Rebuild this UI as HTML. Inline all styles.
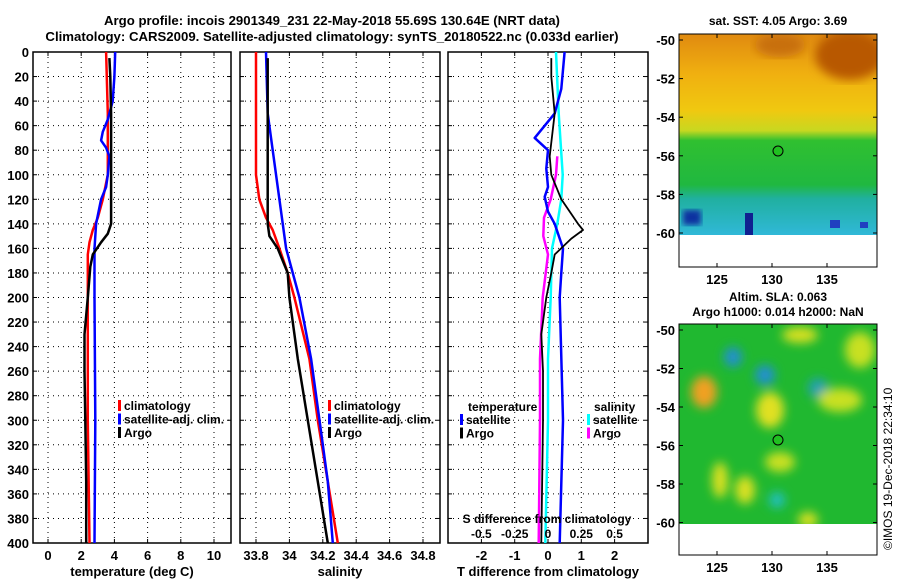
<!DOCTYPE html>
<html><head><meta charset="utf-8"><style>
body{margin:0;background:#fff}
svg{display:block;font-family:"Liberation Sans",sans-serif;font-weight:bold}
</style></head><body>
<svg id="c" width="900" height="580" viewBox="0 0 900 580">
<defs>
<linearGradient id="sst" x1="0" y1="0" x2="0" y2="1">
<stop offset="0" stop-color="#e08a10"/><stop offset="0.2" stop-color="#f0b010"/><stop offset="0.38" stop-color="#f0c810"/>
<stop offset="0.48" stop-color="#c8d820"/><stop offset="0.53" stop-color="#30c030"/><stop offset="0.75" stop-color="#20b840"/>
<stop offset="0.82" stop-color="#20b0a0"/><stop offset="1" stop-color="#30b8d8"/></linearGradient>
<filter id="bl"><feGaussianBlur stdDeviation="5"/></filter>
<filter id="bl2"><feGaussianBlur stdDeviation="3"/></filter>
<clipPath id="m1c"><rect x="679" y="34" width="198" height="201"/></clipPath>
<clipPath id="m2c"><rect x="679" y="324" width="198" height="200"/></clipPath>
</defs>
<g id="title" font-size="13.2" text-anchor="middle">
<text x="332" y="25">Argo profile: incois 2901349_231 22-May-2018 55.69S 130.64E (NRT data)</text>
<text x="332" y="41">Climatology: CARS2009. Satellite-adjusted climatology: synTS_20180522.nc (0.033d earlier)</text>
</g>
<g id="p1"></g>
<g id="p2"></g>
<g id="p3"></g>
<g id="map1">
<text x="778" y="25" font-size="12" text-anchor="middle">sat. SST: 4.05 Argo: 3.69</text>
<g clip-path="url(#m1c)">
<rect x="679" y="34" width="198" height="201" fill="url(#sst)"/>
<ellipse cx="850" cy="55" rx="35" ry="25" fill="#b85800" filter="url(#bl)"/>
<ellipse cx="780" cy="45" rx="25" ry="12" fill="#c87010" filter="url(#bl)"/>
<rect x="683" y="210" width="18" height="15" fill="#1030a0" filter="url(#bl2)"/>
<rect x="745" y="213" width="8" height="22" fill="#102090"/>
<rect x="830" y="220" width="10" height="8" fill="#2040c0"/>
<rect x="860" y="222" width="8" height="6" fill="#2040c0"/>
</g>
<rect x="679" y="235" width="198" height="32" fill="#fff"/>
<rect x="679" y="34" width="198" height="233" fill="none" stroke="#000"/>
<circle cx="778" cy="151" r="5" fill="#20c020" stroke="#000"/>
</g>
<g id="map2">
<text x="778" y="301" font-size="12" text-anchor="middle">Altim. SLA: 0.063</text>
<text x="778" y="316" font-size="12" text-anchor="middle">Argo h1000: 0.014 h2000: NaN</text>
<g clip-path="url(#m2c)">
<rect x="679" y="324" width="198" height="200" fill="#20b830"/>
<g filter="url(#bl)">
<ellipse cx="704" cy="392" rx="13" ry="16" fill="#f0a020"/>
<ellipse cx="765" cy="375" rx="10" ry="10" fill="#2090d0"/>
<ellipse cx="733" cy="357" rx="9" ry="10" fill="#2090d0"/>
<ellipse cx="818" cy="388" rx="10" ry="10" fill="#20a0b0"/>
<ellipse cx="770" cy="410" rx="14" ry="18" fill="#e0e020"/>
<ellipse cx="840" cy="400" rx="22" ry="12" fill="#c8e020"/>
<ellipse cx="860" cy="350" rx="15" ry="18" fill="#c8e020"/>
<ellipse cx="800" cy="335" rx="18" ry="8" fill="#d8e020"/>
<ellipse cx="720" cy="480" rx="8" ry="18" fill="#d8e020"/>
<ellipse cx="745" cy="490" rx="10" ry="14" fill="#d8e020"/>
<ellipse cx="780" cy="462" rx="15" ry="10" fill="#c8e020"/>
<ellipse cx="777" cy="500" rx="8" ry="8" fill="#20c0c0"/>
<ellipse cx="808" cy="520" rx="10" ry="8" fill="#d8e020"/>
</g>
</g>
<rect x="679" y="524" width="198" height="31" fill="#fff"/>
<rect x="679" y="324" width="198" height="231" fill="none" stroke="#000"/>
<circle cx="778" cy="440" r="5" fill="#20c020" stroke="#000"/>
</g>
<g id="mapaxes"></g>
<text x="0" y="0" transform="translate(892,550) rotate(-90)" font-size="12" font-weight="normal">©IMOS 19-Dec-2018 22:34:10</text>
</svg>
<script>
// ---- data ----
const depthTicks=[0,20,40,60,80,100,120,140,160,180,200,220,240,260,280,300,320,340,360,380,400];
const tempTicks=[0,2,4,6,8,10];
const salTicks=[33.8,34,34.2,34.4,34.6,34.8];
const salTickLabels=["33.8","34","34.2","34.4","34.6","34.8"];
const dTTicks=[-2,-1,0,1,2];
const dSTicks=[-0.5,-0.25,0,0.25,0.5];
const lonTicks=[125,130,135];
const latTicks=[-50,-52,-54,-56,-58,-60];

const tClimDepth=[0,50,100,120,135,145,155,165,200,300,400];
const tClimVal=[3.5,3.6,3.6,3.3,3.0,2.7,2.5,2.4,2.4,2.4,2.5];
const tSatDepth=[0,20,40,55,65,72,78,85,100,110,120,140,160,200,300,400];
const tSatVal=[4.05,4.0,3.9,3.6,3.3,3.2,3.5,3.7,3.6,3.5,3.2,2.9,2.8,2.8,2.85,2.8];
const tArgoDepth=[5,20,50,100,140,148,155,165,175,200,230,260,300,350,400];
const tArgoVal=[3.7,3.75,3.8,3.8,3.8,3.6,3.2,2.7,2.55,2.4,2.2,2.2,2.25,2.3,2.3];

const sClimDepth=[0,100,120,135,145,160,180,200,250,300,350,400];
const sClimVal=[33.80,33.80,33.82,33.86,33.90,33.94,33.99,34.03,34.12,34.17,34.23,34.29];
const sSatDepth=[0,50,80,120,160,200,250,300,350,400];
const sSatVal=[33.86,33.87,33.90,33.94,33.98,34.06,34.13,34.18,34.23,34.26];
const sArgoDepth=[5,140,150,160,180,200,250,300,350,400];
const sArgoVal=[33.87,33.87,33.88,33.93,33.99,34.0,34.05,34.11,34.17,34.23];

const dTSatDepth=[0,30,50,60,70,80,95,110,118,130,140,160,180,200,300,400];
const dTSatVal=[0.5,0.4,0.2,-0.1,-0.4,0.0,-0.05,0.0,-0.1,0.0,0.2,0.45,0.4,0.35,0.45,0.35];
const dTArgoDepth=[5,20,50,85,100,120,140,145,152,165,180,200,230,260,300,400];
const dTArgoVal=[0.1,0.1,0.2,0.05,0.1,0.4,0.9,1.05,0.7,0.2,0.1,-0.05,-0.2,-0.15,-0.15,-0.2];
const dSSatDepth=[0,50,100,120,140,160,200,250,300,400];
const dSSatVal=[0.06,0.08,0.11,0.1,0.07,0.03,0.02,0.0,0.0,-0.02];
const dSArgoDepth=[85,100,120,135,150,165,200,250,300,400];
const dSArgoVal=[0.07,0.06,0.02,-0.03,-0.035,0.0,-0.04,-0.06,-0.06,-0.07];

// ---- drawing ----
const NS="http://www.w3.org/2000/svg";
function mk(tag,attrs,parent,txt){const e=document.createElementNS(NS,tag);for(const k in attrs)e.setAttribute(k,attrs[k]);if(txt!==undefined)e.textContent=txt;parent.appendChild(e);return e;}
const Y0=52,Y1=543;
const yD=d=>Y0+d*(Y1-Y0)/400;
function lin(d0,d1,r0,r1){return v=>r0+(v-d0)*(r1-r0)/(d1-d0);}

function panel(g,x0,x1,xs,ticks,labels,xlabel,showDepth){
  for(const d of depthTicks){const y=yD(d);
    mk('line',{x1:x0,x2:x1,y1:y,y2:y,stroke:'#000','stroke-dasharray':'1,4'},g);
    mk('line',{x1:x0,x2:x0+4,y1:y,y2:y,stroke:'#000'},g);mk('line',{x1:x1-4,x2:x1,y1:y,y2:y,stroke:'#000'},g);
    if(showDepth){const t=mk('text',{x:x0-4,y:y+5,'font-size':'13','text-anchor':'end'},g,String(d));
      }
  }
  ticks.forEach((v,i)=>{const x=xs(v);
    mk('line',{x1:x,x2:x,y1:Y0,y2:Y1,stroke:'#000','stroke-dasharray':'1,4'},g);
    mk('line',{x1:x,x2:x,y1:Y1,y2:Y1-4,stroke:'#000'},g);mk('line',{x1:x,x2:x,y1:Y0,y2:Y0+4,stroke:'#000'},g);
    const t=mk('text',{x:x,y:560,'font-size':'13','text-anchor':'middle'},g,labels[i]);
    
  });
  mk('rect',{x:x0,y:Y0,width:x1-x0,height:Y1-Y0,fill:'none',stroke:'#000','stroke-width':1.5},g);
  const xl=mk('text',{x:(x0+x1)/2,y:576,'font-size':'13','text-anchor':'middle'},g,xlabel);
  
}
function series(g,depths,vals,xs,color,name,w){
  const pts=depths.map((d,i)=>xs(vals[i]).toFixed(1)+','+yD(d).toFixed(1)).join(' ');
  const p=mk('polyline',{points:pts,fill:'none',stroke:color,'stroke-width':w||2.5,'stroke-linejoin':'round'},g);
  
}
function legend(g,x,y,items){
  items.forEach((it,i)=>{const yy=y+i*13.5;
    mk('rect',{x:x,y:yy-6,width:3,height:11,fill:it[1]},g);
    const t=mk('text',{x:x+6,y:yy+4,'font-size':'12'},g,it[0]);
    });
}
const p1=document.getElementById('p1'),p2=document.getElementById('p2'),p3=document.getElementById('p3');
const xT=lin(0,10,48,214);
panel(p1,33,231,xT,tempTicks,tempTicks.map(String),'temperature (deg C)',true);
series(p1,tClimDepth,tClimVal,xT,'#f00','temp-climatology-line');
series(p1,tSatDepth,tSatVal,xT,'#00f','temp-satellite-line');
series(p1,tArgoDepth,tArgoVal,xT,'#000','temp-argo-line');
legend(p1,118,406,[['climatology','#f00'],['satellite-adj. clim.','#00f'],['Argo','#000']]);

const xS=lin(33.8,34.8,256,423);
panel(p2,240,440,xS,salTicks,salTickLabels,'salinity',false);
series(p2,sClimDepth,sClimVal,xS,'#f00','sal-climatology-line');
series(p2,sSatDepth,sSatVal,xS,'#00f','sal-satellite-line');
series(p2,sArgoDepth,sArgoVal,xS,'#000','sal-argo-line');
legend(p2,328,406,[['climatology','#f00'],['satellite-adj. clim.','#00f'],['Argo','#000']]);

const xDT=lin(0,1,548,581.3);
const xDS=v=>xDT(v*4);
panel(p3,448,648,xDT,dTTicks,dTTicks.map(String),'T difference from climatology',false);
series(p3,dSSatDepth,dSSatVal,xDS,'#0ff','sal-diff-satellite-line');
series(p3,dSArgoDepth,dSArgoVal,xDS,'#f0f','sal-diff-argo-line');
series(p3,dTSatDepth,dTSatVal,xDT,'#00f','temp-diff-satellite-line');
series(p3,dTArgoDepth,dTArgoVal,xDT,'#000','temp-diff-argo-line',1.8);
mk('text',{x:468,y:411,'font-size':'12'},p3,'temperature');
legend(p3,460,420,[['satellite','#00f'],['Argo','#000']]);
mk('text',{x:594,y:411,'font-size':'12'},p3,'salinity');
legend(p3,587,420,[['satellite','#0ff'],['Argo','#f0f']]);
mk('text',{x:547,y:523,'font-size':'12','text-anchor':'middle'},p3,'S difference from climatology');
dSTicks.forEach(v=>{const t=mk('text',{x:xDS(v),y:538,'font-size':'12','text-anchor':'middle'},p3,String(v));
  });

// map axes
const ma=document.getElementById('mapaxes');
const xLon=lin(125,135,717,827);
function mapAx(latY,bottom,top){
  lonTicks.forEach(l=>{const x=xLon(l);mk('line',{x1:x,x2:x,y1:bottom,y2:bottom-4,stroke:'#000'},ma);mk('line',{x1:x,x2:x,y1:top,y2:top+4,stroke:'#000'},ma);
    const t=mk('text',{x:x,y:bottom+17,'font-size':'13','text-anchor':'middle'},ma,String(l));
    });
  latTicks.forEach(l=>{const y=latY(l);mk('line',{x1:679,x2:683,y1:y,y2:y,stroke:'#000'},ma);mk('line',{x1:873,x2:877,y1:y,y2:y,stroke:'#000'},ma);
    const t=mk('text',{x:675,y:y+5,'font-size':'13','text-anchor':'end'},ma,String(l));
    });
}
mapAx(lin(-50,-60,40,233),267,34);
mapAx(lin(-50,-60,330,522.5),555,324);
</script>
</body></html>
